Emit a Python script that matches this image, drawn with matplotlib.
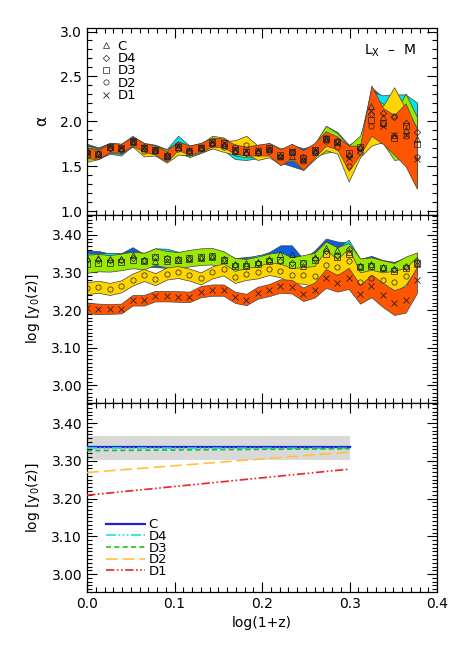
import numpy as np
import matplotlib.pyplot as plt
from matplotlib.ticker import MultipleLocator, NullFormatter

# redshift bins, log(1+z)
logz = np.arange(30) * 0.013

names = ['C', 'D4', 'D3', 'D2', 'D1']
band_colors = ['#0b5fe0', '#00e6f2', '#9be800', '#ffd500', '#ff5400']
markers = ['^', 'D', 's', 'o', 'x']

# alpha (slope) per bin: centre and half width
alpha_C = [1.68,1.65,1.71,1.70,1.77,1.70,1.68,1.63,1.72,1.68,1.71,1.76,1.74,1.67,1.66,1.68,1.69,1.61,1.62,1.58,1.66,1.82,1.78,1.64,1.72,2.17,2.05,1.85,1.90,1.80]
alpha_C_err = [0.07,0.06,0.05,0.05,0.05,0.05,0.05,0.06,0.06,0.05,0.05,0.05,0.06,0.07,0.07,0.06,0.06,0.07,0.12,0.12,0.08,0.12,0.10,0.10,0.08,0.21,0.22,0.22,0.30,0.40]
alpha_D4 = [1.66,1.64,1.70,1.68,1.78,1.71,1.68,1.63,1.74,1.67,1.70,1.76,1.74,1.67,1.65,1.66,1.69,1.62,1.66,1.60,1.67,1.82,1.78,1.62,1.70,2.08,2.09,2.05,1.98,1.88]
alpha_D4_err = [0.07,0.06,0.06,0.06,0.05,0.05,0.06,0.06,0.10,0.06,0.05,0.05,0.06,0.09,0.08,0.07,0.06,0.07,0.06,0.07,0.07,0.13,0.10,0.10,0.08,0.25,0.20,0.25,0.32,0.33]
alpha_D3 = [1.64,1.64,1.71,1.70,1.78,1.70,1.68,1.62,1.72,1.66,1.70,1.77,1.76,1.68,1.66,1.66,1.70,1.63,1.66,1.59,1.68,1.80,1.77,1.65,1.72,2.02,1.98,1.82,1.95,1.75]
alpha_D3_err = [0.09,0.06,0.05,0.05,0.06,0.05,0.05,0.07,0.05,0.06,0.05,0.07,0.06,0.06,0.06,0.06,0.06,0.07,0.06,0.07,0.07,0.15,0.10,0.08,0.12,0.25,0.22,0.25,0.36,0.30]
alpha_D2 = [1.66,1.64,1.70,1.69,1.77,1.67,1.67,1.60,1.69,1.67,1.70,1.75,1.72,1.71,1.74,1.65,1.67,1.60,1.66,1.56,1.66,1.78,1.72,1.50,1.66,1.95,1.97,2.06,1.84,1.60]
alpha_D2_err = [0.05,0.05,0.05,0.05,0.05,0.06,0.05,0.06,0.06,0.05,0.05,0.05,0.06,0.08,0.10,0.08,0.07,0.08,0.09,0.10,0.08,0.10,0.08,0.17,0.06,0.22,0.20,0.32,0.30,0.33]
alpha_D1 = [1.65,1.63,1.71,1.70,1.78,1.71,1.68,1.61,1.73,1.68,1.71,1.77,1.76,1.69,1.67,1.68,1.69,1.60,1.67,1.57,1.68,1.81,1.76,1.59,1.68,2.12,1.95,1.85,1.85,1.58]
alpha_D1_err = [0.06,0.05,0.05,0.05,0.05,0.05,0.05,0.06,0.05,0.05,0.05,0.05,0.05,0.05,0.05,0.06,0.07,0.09,0.08,0.11,0.08,0.08,0.07,0.14,0.05,0.28,0.20,0.22,0.35,0.33]

# log y0(z) per bin
y0_C = [3.338,3.338,3.335,3.336,3.345,3.333,3.330,3.330,3.332,3.336,3.338,3.340,3.334,3.322,3.325,3.328,3.336,3.350,3.350,3.318,3.340,3.365,3.360,3.355,3.318,3.322,3.315,3.310,3.318,3.322]
y0_C_err = [0.020,0.019,0.015,0.015,0.022,0.016,0.016,0.018,0.018,0.016,0.016,0.016,0.016,0.016,0.016,0.016,0.018,0.022,0.022,0.018,0.018,0.025,0.022,0.025,0.018,0.022,0.018,0.018,0.022,0.022]
y0_D4 = [3.332,3.332,3.334,3.334,3.338,3.334,3.342,3.338,3.335,3.337,3.342,3.343,3.336,3.320,3.318,3.326,3.330,3.330,3.326,3.324,3.335,3.358,3.345,3.362,3.318,3.318,3.312,3.308,3.315,3.330]
y0_D4_err = [0.020,0.019,0.018,0.018,0.018,0.018,0.022,0.025,0.020,0.018,0.018,0.018,0.018,0.018,0.020,0.020,0.018,0.018,0.018,0.018,0.018,0.025,0.020,0.025,0.018,0.020,0.018,0.018,0.018,0.022]
y0_D3 = [3.323,3.326,3.324,3.328,3.333,3.330,3.342,3.335,3.332,3.338,3.342,3.343,3.334,3.318,3.318,3.322,3.330,3.334,3.320,3.326,3.332,3.348,3.342,3.350,3.315,3.318,3.312,3.305,3.312,3.325]
y0_D3_err = [0.024,0.023,0.022,0.022,0.022,0.022,0.022,0.022,0.022,0.022,0.022,0.022,0.022,0.020,0.018,0.020,0.020,0.020,0.020,0.020,0.020,0.034,0.025,0.028,0.022,0.022,0.020,0.020,0.030,0.028]
y0_D2 = [3.258,3.262,3.256,3.263,3.281,3.293,3.282,3.297,3.301,3.294,3.284,3.300,3.308,3.288,3.296,3.300,3.310,3.305,3.292,3.292,3.290,3.320,3.315,3.330,3.275,3.285,3.280,3.275,3.290,3.325]
y0_D2_err = [0.016,0.016,0.016,0.016,0.016,0.016,0.016,0.016,0.016,0.016,0.016,0.016,0.016,0.016,0.016,0.016,0.017,0.018,0.020,0.022,0.027,0.040,0.020,0.035,0.025,0.022,0.020,0.030,0.022,0.017]
y0_D1 = [3.206,3.203,3.203,3.204,3.226,3.226,3.237,3.237,3.236,3.235,3.249,3.253,3.253,3.234,3.228,3.246,3.253,3.264,3.262,3.242,3.253,3.284,3.271,3.284,3.242,3.264,3.240,3.220,3.228,3.280]
y0_D1_err = [0.014,0.014,0.013,0.013,0.014,0.014,0.014,0.014,0.014,0.014,0.015,0.015,0.015,0.015,0.015,0.016,0.016,0.018,0.018,0.018,0.020,0.025,0.022,0.028,0.025,0.030,0.032,0.033,0.035,0.035]

# linear fits of log y0 (bottom panel)
fit_x = [0.0, 0.3]
fit_C = [3.336, 3.336]
fit_D4 = [3.334, 3.333]
fit_D3 = [3.327, 3.332]
fit_D2 = [3.269, 3.323]
fit_D1 = [3.209, 3.278]
fit_band = [3.303, 3.367]

alpha_vals = [alpha_C, alpha_D4, alpha_D3, alpha_D2, alpha_D1]
alpha_errs = [alpha_C_err, alpha_D4_err, alpha_D3_err, alpha_D2_err, alpha_D1_err]
y0_vals = [y0_C, y0_D4, y0_D3, y0_D2, y0_D1]
y0_errs = [y0_C_err, y0_D4_err, y0_D3_err, y0_D2_err, y0_D1_err]

plt.rcParams['font.family'] = 'DejaVu Sans'
plt.rcParams['font.size'] = 10

fig = plt.figure(figsize=(4.63, 6.49), dpi=100)
ax1 = fig.add_axes([0.188, 0.669, 0.756, 0.288])
ax2 = fig.add_axes([0.188, 0.379, 0.756, 0.290])
ax3 = fig.add_axes([0.188, 0.088, 0.756, 0.291])


def draw_bands(ax, vals, errs, ms):
    for v, e, col in zip(vals, errs, band_colors):
        v = np.array(v)
        e = np.array(e)
        ax.fill_between(logz, v - e, v + e, facecolor=col, edgecolor='#444444', lw=0.5, zorder=2)
    for v, mk, nm in zip(vals, markers, names):
        if mk == 'x':
            ax.plot(logz, v, ls='none', marker=mk, ms=ms, mec='#222222', mew=0.6, zorder=3, label=nm)
        else:
            ax.plot(logz, v, ls='none', marker=mk, ms=ms if mk != 'D' else ms * 0.85,
                    mfc='none', mec='#222222', mew=0.5, zorder=3, label=nm)


draw_bands(ax1, alpha_vals, alpha_errs, 3.8)
draw_bands(ax2, y0_vals, y0_errs, 3.8)

# bottom panel
ax3.fill_between(fit_x, fit_band[0], fit_band[1], color='#d9d9d9', lw=0, zorder=1)
ax3.plot(fit_x, fit_C, color='#2222dd', lw=1.6, ls='-', label='C', zorder=3)
ax3.plot(fit_x, fit_D4, color='#22dddd', lw=1.2, ls=(0, (6, 1.5, 1, 1.5, 1, 1.5, 1, 1.5)), label='D4', zorder=3)
ax3.plot(fit_x, fit_D3, color='#22bb22', lw=1.2, ls=(0, (3, 2)), label='D3', zorder=3)
ax3.plot(fit_x, fit_D2, color='#ffc23a', lw=1.2, ls=(0, (7, 3)), label='D2', zorder=3)
ax3.plot(fit_x, fit_D1, color='#ee2222', lw=1.2, ls=(0, (5, 1.5, 1, 1.5, 1, 1.5)), label='D1', zorder=3)

for ax in (ax1, ax2, ax3):
    ax.set_xlim(0, 0.4)
    ax.xaxis.set_major_locator(MultipleLocator(0.1))
    ax.xaxis.set_minor_locator(MultipleLocator(0.01))
    ax.tick_params(which='both', direction='in', top=True, right=True, width=0.8)
    ax.tick_params(which='major', length=7)
    ax.tick_params(which='minor', length=3.5)
    for s in ax.spines.values():
        s.set_linewidth(0.9)

ax1.set_ylim(0.96, 3.04)
ax1.yaxis.set_major_locator(MultipleLocator(0.5))
ax1.yaxis.set_minor_locator(MultipleLocator(0.1))
ax1.yaxis.set_major_formatter('{x:.1f}')
ax1.set_ylabel('α', fontsize=11)
ax1.yaxis.set_label_coords(-0.108, 0.5)

for ax in (ax2, ax3):
    ax.set_ylim(2.953, 3.453)
    ax.yaxis.set_major_locator(MultipleLocator(0.1))
    ax.yaxis.set_minor_locator(MultipleLocator(0.01))
    ax.yaxis.set_major_formatter('{x:.2f}')
    ax.set_ylabel('log [y$_0$(z)]')
    ax.yaxis.set_label_coords(-0.13, 0.5)

ax1.xaxis.set_major_formatter(NullFormatter())
ax2.xaxis.set_major_formatter(NullFormatter())
ax3.xaxis.set_major_formatter('{x:.1f}')
ax3.set_xlabel('log(1+z)')

ax1.legend(loc='upper left', frameon=False, handletextpad=0.4, labelspacing=-0.05,
           borderaxespad=0.5, handlelength=1.0, fontsize=9.5)
ax1.text(0.94, 0.88, 'L$_\\mathrm{X}$  –  M', transform=ax1.transAxes, ha='right', va='center', fontsize=10)

ax3.legend(loc='lower left', frameon=False, handlelength=2.9, labelspacing=-0.1,
           borderaxespad=0.0, handletextpad=0.3, fontsize=9.5, bbox_to_anchor=(0.04, 0.045))

fig.savefig('out.png', dpi=100)
